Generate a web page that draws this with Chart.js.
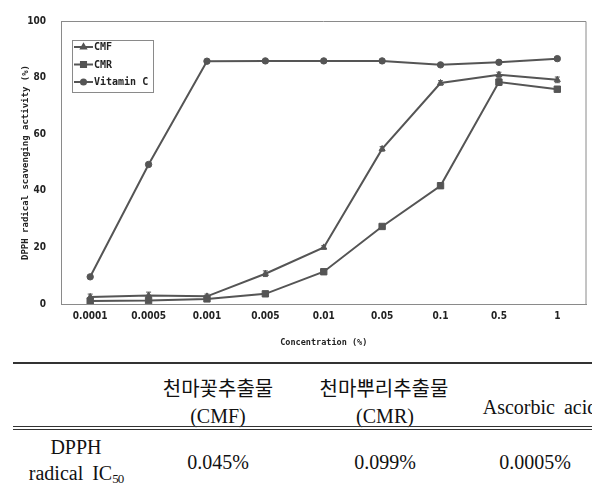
<!DOCTYPE html>
<html>
<head>
<meta charset="utf-8">
<script src="https://cdn.jsdelivr.net/npm/chart.js@4"></script>
<style>
  html, body { margin: 0; padding: 0; width: 592px; height: 489px; overflow: hidden; background: #fff; }
  #wrap { position: absolute; left: 0; top: 0; width: 592px; height: 355px; }
  .t { position: absolute; white-space: nowrap; font-family: "Liberation Serif", "Noto Sans CJK KR", serif; font-size: 20px; color: #111; text-align: center; transform: translate(-50%, -50%); line-height: 1; }
  .ko { font-family: "Noto Sans CJK KR", sans-serif; font-weight: 400; }
  .rule { position: absolute; left: 13px; width: 600px; background: #333; }
  sub { font-size: 13px; vertical-align: -3px; letter-spacing: -1px; }
</style>
</head>
<body>
<div id="wrap"><canvas id="myChart" width="592" height="355"></canvas></div>

<!-- tabela do IC50 -->
<div class="rule" style="top:362px;height:2px;"></div>
<div class="t ko" style="left:218px;top:388px;">천마꽃추출물</div>
<div class="t" style="left:218px;top:416px;">(CMF)</div>
<div class="t ko" style="left:384px;top:388px;">천마뿌리추출물</div>
<div class="t" style="left:385px;top:416px;">(CMR)</div>
<div class="t" style="left:540px;top:407px;word-spacing:4px;">Ascorbic acid</div>
<div class="rule" style="top:426px;height:1px;"></div>
<div class="rule" style="top:429px;height:1px;"></div>
<div class="t" style="left:76px;top:447px;">DPPH</div>
<div class="t" style="left:76px;top:474px;word-spacing:4px;">radical IC<sub>50</sub></div>
<div class="t" style="left:218px;top:462px;">0.045%</div>
<div class="t" style="left:385px;top:462px;">0.099%</div>
<div class="t" style="left:535px;top:462px;">0.0005%</div>

<script>
// Dados do gráfico
const concentrations = ['0.0001', '0.0005', '0.001', '0.005', '0.01', '0.05', '0.1', '0.5', '1'];
const cmfValues = [2.5, 3.0, 2.7, 10.7, 20.0, 54.8, 78.1, 81.0, 79.2];
const cmrValues = [1.1, 1.2, 1.8, 3.6, 11.4, 27.4, 41.8, 78.4, 75.9];
const vitCValues = [9.6, 49.3, 85.8, 85.9, 85.9, 85.9, 84.5, 85.4, 86.7];
const cmfErr = [1.0, 1.2, 0.8, 1.0, 0.6, 0.8, 0.8, 0.9, 1.0];
const cmrErr = [0.5, 0.5, 0.5, 0.5, 0.5, 0.5, 0.5, 1.2, 0.8];
const vitCErr = [0.5, 0.6, 0.4, 0.4, 0.4, 0.4, 0.5, 0.5, 0.6];
const yTicks = [0, 20, 40, 60, 80, 100];

const lineColor = '#555555';
const axisColor = '#8a8a8a';
const monoFont = '"DejaVu Sans Mono", monospace';
const tickFont = '"DejaVu Sans Condensed", "DejaVu Sans", sans-serif';

function serie(label, data, err, style, radius) {
    return {
        label: label,
        data: data,
        errors: err,
        borderColor: lineColor,
        backgroundColor: lineColor,
        borderWidth: 2,
        pointStyle: style,
        pointRadius: radius,
        pointBorderWidth: 1,
        tension: 0
    };
}

// moldura, barras de erro e legenda dentro do gráfico
const extras = {
    id: 'extras',
    beforeDatasetsDraw(chart) {
        const ctx = chart.ctx;
        const a = chart.chartArea;
        ctx.save();
        ctx.strokeStyle = axisColor;
        ctx.lineWidth = 1;
        ctx.beginPath();
        ctx.moveTo(a.left, a.top + 0.5);
        ctx.lineTo(a.right - 0.5, a.top + 0.5);
        ctx.lineTo(a.right - 0.5, a.bottom);
        ctx.stroke();
        // barras de erro
        ctx.strokeStyle = lineColor;
        chart.data.datasets.forEach((ds, i) => {
            const meta = chart.getDatasetMeta(i);
            meta.data.forEach((pt, j) => {
                const y1 = chart.scales.y.getPixelForValue(ds.data[j] + ds.errors[j]);
                const y2 = chart.scales.y.getPixelForValue(ds.data[j] - ds.errors[j]);
                ctx.beginPath();
                ctx.moveTo(pt.x, y1); ctx.lineTo(pt.x, y2);
                ctx.moveTo(pt.x - 2.5, y1); ctx.lineTo(pt.x + 2.5, y1);
                ctx.moveTo(pt.x - 2.5, y2); ctx.lineTo(pt.x + 2.5, y2);
                ctx.stroke();
            });
        });
        ctx.restore();
    },
    afterDraw(chart) {
        const ctx = chart.ctx;
        const a = chart.chartArea;
        const bx = a.left + 11, by = a.top + 19, bw = 81, bh = 52;
        ctx.save();
        ctx.fillStyle = '#fff';
        ctx.fillRect(bx, by, bw, bh);
        ctx.strokeStyle = axisColor;
        ctx.lineWidth = 1;
        ctx.strokeRect(bx + 0.5, by + 0.5, bw, bh);
        ctx.font = 'bold 10px ' + monoFont;
        ctx.textBaseline = 'middle';
        chart.data.datasets.forEach((ds, i) => {
            const y = by + 7 + i * 17.5;
            ctx.strokeStyle = lineColor;
            ctx.lineWidth = 2;
            ctx.beginPath();
            ctx.moveTo(bx + 2, y); ctx.lineTo(bx + 21, y);
            ctx.stroke();
            Chart.helpers.drawPoint(ctx, {
                pointStyle: ds.pointStyle, radius: ds.pointRadius * 0.8, borderWidth: 1
            }, bx + 11.5, y);
            ctx.fillStyle = lineColor;
            ctx.fill();
            ctx.fillStyle = '#222';
            ctx.fillText(ds.label, bx + 22, y + 0.5);
        });
        ctx.restore();
    }
};

const ctx = document.getElementById('myChart').getContext('2d');

const myChart = new Chart(ctx, {
    type: 'line',
    data: {
        labels: concentrations,
        datasets: [
            serie('CMF', cmfValues, cmfErr, 'triangle', 3.5),
            serie('CMR', cmrValues, cmrErr, 'rect', 4.5),
            serie('Vitamin C', vitCValues, vitCErr, 'circle', 3.2)
        ]
    },
    options: {
        responsive: false,
        animation: false,
        layout: { padding: { top: 12, right: 2, left: 0, bottom: 0 } },
        plugins: { legend: { display: false }, tooltip: { enabled: false } },
        scales: {
            x: {
                offset: true,
                grid: { display: false, drawTicks: false },
                border: { color: axisColor, width: 1 },
                ticks: { color: '#222', font: { family: tickFont, size: 10, weight: 'bold' }, padding: 6, maxRotation: 0, autoSkip: false },
                title: { display: true, text: 'Concentration (%)', color: '#222', font: { family: monoFont, size: 8.5, weight: 'bold' }, padding: { top: 0, bottom: 7 } },
                afterFit(scale) { scale.height = 51; }
            },
            y: {
                min: 0,
                max: 100,
                grid: { display: false, drawTicks: false },
                border: { color: axisColor, width: 1 },
                afterBuildTicks(scale) { scale.ticks = yTicks.map(v => ({ value: v })); },
                ticks: { color: '#222', font: { family: tickFont, size: 10, weight: 'bold' }, padding: 15 },
                title: { display: true, text: 'DPPH radical scavenging activity (%)', color: '#222', font: { family: monoFont, size: 9, weight: 'bold' }, padding: { top: 20, bottom: 0 } },
                afterFit(scale) { scale.width = 61; }
            }
        }
    },
    plugins: [extras]
});
</script>
</body>
</html>
